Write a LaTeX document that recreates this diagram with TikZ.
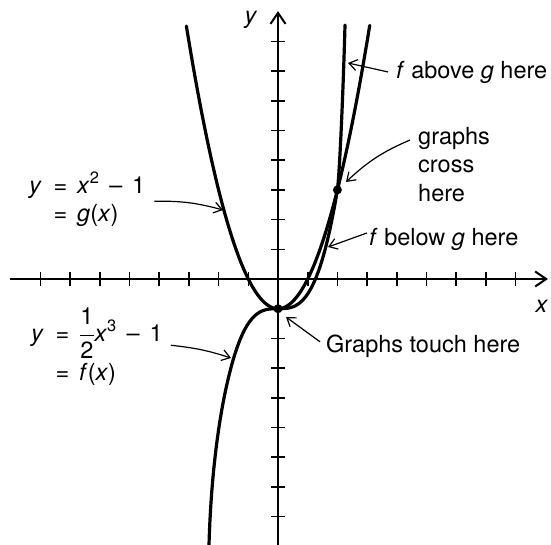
\documentclass[tikz,border=0pt]{standalone}
\usepackage{fontspec}
\setmainfont{TeX Gyre Heros}
\usetikzlibrary{arrows.meta}
\newcommand\mygap{\hspace{0.42em}}
\begin{document}
\begin{tikzpicture}[x=1pt,y=-1pt,
  curve/.style={line width=3.2pt, line cap=round},
  axis/.style={line width=2pt},
  tickmark/.style={line width=1.6pt},
  lab/.style={inner sep=0pt, font=\fontsize{23.5}{28.5}\selectfont},
  pointer/.style={line width=1.2pt, -{Straight Barb[length=8pt,width=11pt]}},
  axistip/.style={-{Straight Barb[length=11pt,width=15pt]}},
  dotnode/.style={circle, fill, inner sep=0pt, minimum size=9pt}
]
\useasboundingbox (0,0) rectangle (551,544);
\begin{scope}[shift={(278pt,-279pt)}, x=29.7pt, y=29.7pt]
  \draw[axis, axistip] (-9.02,0) -- (9.09,0);
  \draw[axis, axistip] (0,-9) -- (0,9.02);
  \foreach \i in {-8,...,-1,1,2,...,8} {
    \draw[tickmark] (\i,-0.22) -- (\i,0.22);
    \draw[tickmark] (-0.22,\i) -- (0.22,\i);
  }
  \draw[curve] plot[domain=-3.085:3.09, samples=120, smooth] (\x,{\x*\x-1});
  \draw[curve] (-2.323,-8.95) .. controls (-2.273,-7.15) and (-2.084,-5.088) .. (-1.684,-3.388)
     -- plot[domain=-1.684:2, samples=100, smooth] (\x,{0.5*\x*\x*\x-1})
     .. controls (2.08,3.6) and (2.2,6.5) .. (2.256,8.55);
  \node[dotnode] (touch) at (0,-1) {};
  \node[dotnode] (cross) at (2,3) {};
\end{scope}
% labels
\node[lab, anchor=base west] (glab) at (29,193) {\begin{tabular}[t]{@{}r@{}l@{}}\textit{y}\hspace{0.5em} & =\mygap\textit{x}\textsuperscript{2}\mygap\textendash\mygap1\\ & =\mygap\textit{g}(\textit{x})\end{tabular}};
\node[lab, anchor=base west] (flab) at (31,341) {\begin{tabular}[t]{@{}r@{}l@{}}\textit{y}\hspace{0.5em} & =\mygap$\displaystyle\frac{\mbox{1}}{\mbox{2}}$\textit{x}\textsuperscript{3}\mygap\textendash\mygap1\\[11pt] & =\mygap\textit{f}(\textit{x})\end{tabular}};
\node[lab, anchor=base west] (above) at (396,78) {\textit{f} above \textit{g} here};
\node[lab, anchor=base west] (crosslab) at (418,144) {\begin{tabular}[t]{@{}l@{}}graphs\\cross\\here\end{tabular}};
\node[lab, anchor=base west] (below) at (369,245) {\textit{f} below \textit{g} here};
\node[lab, anchor=base west] (touchlab) at (326,352) {Graphs touch here};
\node[lab] (ylab) at (251,20) {\textit{y}};
\node[lab] (xlab) at (542,306) {\textit{x}};
% arrow tips on the curves
\coordinate (gtip) at (223,210);
\coordinate (ftip) at (231,358);
\coordinate (abovetip) at (348,63);
\coordinate (crosstip) at (346,182);
\coordinate (belowtip) at (328,247);
\coordinate (touchtip) at (286,317);
\draw[pointer] ([xshift=9pt]glab.east) to[bend left=8] (gtip);
\draw[pointer] ([xshift=8pt,yshift=3pt]flab.east) to[bend left=6] (ftip);
\draw[pointer] ([xshift=-8pt]above.west) -- (abovetip);
\draw[pointer] ([xshift=-8pt,yshift=4pt]crosslab.base west) to[bend right=10] (crosstip);
\draw[pointer] ([xshift=-2pt,yshift=6pt]below.west) -- (belowtip);
\draw[pointer] ([xshift=-6pt,yshift=4pt]touchlab.west) -- (touchtip);
\end{tikzpicture}
\end{document}
